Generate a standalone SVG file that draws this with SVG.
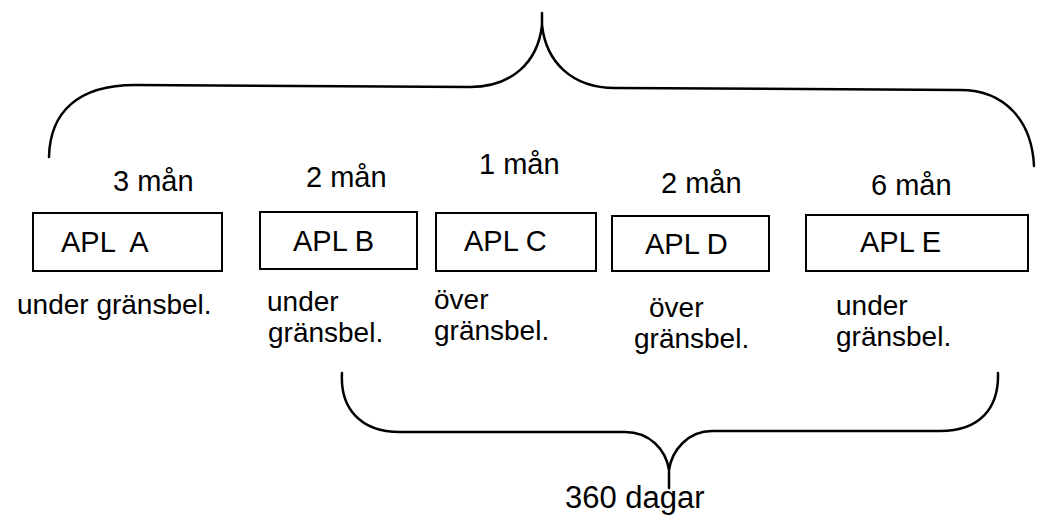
<svg xmlns="http://www.w3.org/2000/svg" width="1041" height="522" viewBox="0 0 1041 522">
<style>
  text { font-family: "Liberation Sans", Arial, Helvetica, sans-serif; font-size: 29px; fill: #000; }
  .sub { font-size: 28px; }
  .box { fill: #fff; stroke: #000; stroke-width: 2; }
  .brace { fill: none; stroke: #000; stroke-width: 2.5; stroke-linecap: round; }
</style>
<rect width="1041" height="522" fill="#fff"/>
<g id="connectors">
  <path class="brace" d="M49,157 C50,112 78,85 135,85 L470,87 C512,87 538,62 542,25 L542,13 M542,25 C546,62 572,88 615,88 L960,90 C1006,90 1032,122 1034,166"/>
  <path class="brace" d="M342,373 C340,408 360,432 400,432 L625,432 C650,432 666,450 669,470 L669,488 M669,470 C672,450 688,431 712,431 L940,431 C980,431 999,408 998,373"/>
</g>
<g id="nodeA">
  <text x="113" y="191">3 mån</text>
  <rect class="box" x="33" y="213" width="189" height="58"/>
  <text x="61" y="252" xml:space="preserve">APL  A</text>
  <text class="sub" x="17" y="314">under gränsbel.</text>
</g>
<g id="nodeB">
  <text x="306" y="187">2 mån</text>
  <rect class="box" x="260" y="212" width="157" height="57"/>
  <text x="293" y="251">APL B</text>
  <text class="sub" x="267" y="311">under</text>
  <text class="sub" x="268" y="342">gränsbel.</text>
</g>
<g id="nodeC">
  <text x="479" y="174">1 mån</text>
  <rect class="box" x="436" y="213" width="160" height="58"/>
  <text x="464" y="251">APL C</text>
  <text class="sub" x="434" y="309">över</text>
  <text class="sub" x="434" y="340">gränsbel.</text>
</g>
<g id="nodeD">
  <text x="661" y="193">2 mån</text>
  <rect class="box" x="612" y="216" width="157" height="55"/>
  <text x="645" y="254">APL D</text>
  <text class="sub" x="649" y="317">över</text>
  <text class="sub" x="634" y="348">gränsbel.</text>
</g>
<g id="nodeE">
  <text x="871" y="195">6 mån</text>
  <rect class="box" x="806" y="215" width="222" height="56"/>
  <text x="860" y="252">APL E</text>
  <text class="sub" x="836" y="315">under</text>
  <text class="sub" x="836" y="346">gränsbel.</text>
</g>
<g id="total">
  <text x="565" y="508" style="font-size:31px">360 dagar</text>
</g>
</svg>
